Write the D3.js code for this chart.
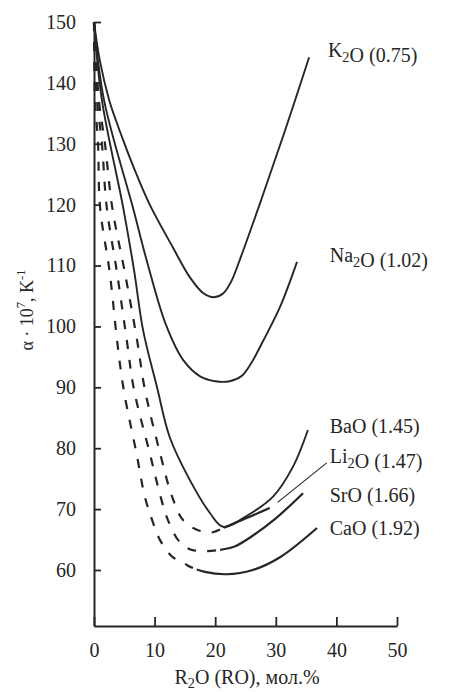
<!DOCTYPE html>
<html>
<head>
<meta charset="utf-8">
<script src="https://d3js.org/d3.v7.min.js"></script>
<style>
  body { margin: 0; background: #fff; }
  svg text { font-family: "Liberation Serif", "DejaVu Serif", serif; }
</style>
</head>
<body>
<div id="container"></div>
<script>
// x = R2O (RO), mol.%   y = alpha * 10^7, 1/K
const k2o  = [[0,150],[1.0,143.5],[2.5,137.2],[3.6,133.9],[5.0,130.1],[6.6,126.0],[9.2,120.0],[13.0,113.0],[15.8,108.1],[18.0,105.5],[19.8,104.8],[21.3,105.4],[22.6,107.3],[24.3,111.6],[27.6,120.8],[31.4,131.8],[35.5,144.2]];
const na2o = [[0,150],[1.65,137.2],[6.4,119.6],[8.9,110.1],[11.9,100.2],[14.7,94.5],[17.5,91.8],[20.0,91.0],[22.4,91.0],[24.3,91.8],[25.9,93.9],[27.9,97.6],[30.7,103.2],[33.5,110.6]];
const bao  = [[0,150],[1.3,137.2],[4.8,119.6],[6.6,109.3],[8.1,99.4],[10.4,90.0],[12.5,81.8],[15.8,74.8],[19.1,69.4],[21.3,67.1],[25.7,69.2],[29.5,72.0],[32.8,76.9],[35.3,83.0]];
const li2o = [[0,150],[0.8,137.2],[1.8,130.1],[3.0,119.6],[5.1,108.8],[7.1,97.8],[8.4,89.6],[10.9,79.2],[12.9,72.0],[14.7,68.2],[17.0,66.6],[19.6,66.2],[21.3,66.9],[24.9,68.4],[29.0,70.2]];
const sro  = [[0,150],[0.5,137.2],[1.3,130.1],[2.1,119.6],[3.8,108.8],[5.4,97.8],[6.6,89.6],[9.2,79.2],[11.0,72.0],[12.2,68.2],[13.9,64.9],[15.8,63.4],[18.3,63.1],[20.8,63.3],[23.3,63.9],[25.7,65.3],[29.9,68.4],[34.5,72.6]];
const cao  = [[0,150],[0.17,137.2],[0.66,130.1],[1.0,119.6],[2.6,108.8],[3.8,97.8],[4.9,89.6],[7.0,79.2],[8.4,72.0],[9.6,68.2],[10.9,64.9],[13.0,62.1],[14.7,61.3],[15.5,60.7],[18.3,59.7],[21.9,59.3],[26.2,60.0],[30.7,62.1],[36.8,66.9]];

const names    = ["K2O", "Na2O", "BaO", "Li2O", "SrO", "CaO"];
const strength = ["0.75", "1.02", "1.45", "1.47", "1.66", "1.92"];
// composition up to which a curve is dashed (0 = solid all the way)
const dashedTo = [0, 0, 0, 21.0, 20.8, 15.5];
const li2oLeader = [[30.3,71.1],[38.4,77.6]];

const xTicks = [0, 10, 20, 30, 40, 50];
const yTicks = [60, 70, 80, 90, 100, 110, 120, 130, 140, 150];

const W = 449, H = 692;
const ink = "#262626";
const serif = '"Liberation Serif", "DejaVu Serif", serif';

const svg = d3.select('#container').append('svg')
  .attr('width', W).attr('height', H);

const x = d3.scaleLinear().domain([0, 50]).range([94, 397]);
const y = d3.scaleLinear().domain([50.8, 150]).range([626, 22]);

// axes, ticks point inwards
const yAxis = d3.axisLeft(y).tickValues(yTicks).tickSizeInner(-7).tickSizeOuter(0).tickPadding(18);
const xAxis = d3.axisBottom(x).tickValues(xTicks).tickSizeInner(-9).tickSizeOuter(0).tickPadding(17);

const gy = svg.append('g').attr('transform', 'translate(94,0)').call(yAxis);
const gx = svg.append('g').attr('transform', 'translate(0,626)').call(xAxis);
[gx, gy].forEach(g => {
  g.attr('font-family', serif);
  g.select('.domain').attr('stroke', ink).attr('stroke-width', 2);
  g.selectAll('.tick line').attr('stroke', ink).attr('stroke-width', 1.8);
  g.selectAll('.tick text').attr('fill', ink).attr('font-size', 20)
    .attr('font-family', serif);
});

const line = d3.line()
  .x(d => x(d[0])).y(d => y(d[1]))
  .curve(d3.curveCatmullRom.alpha(0.5));

const curves = [k2o, na2o, bao, li2o, sro, cao];
curves.forEach((pts, i) => {
  const p = svg.append('path')
    .attr('d', line(pts))
    .attr('fill', 'none')
    .attr('stroke', ink)
    .attr('stroke-width', dashedTo[i] ? 2.2 : 1.9);
  if (dashedTo[i]) {
    const node = p.node();
    const total = node.getTotalLength();
    const xc = x(dashedTo[i]);
    let lo = 0, hi = total;
    for (let k = 0; k < 30; k++) {
      const mid = (lo + hi) / 2;
      if (node.getPointAtLength(mid).x < xc) lo = mid; else hi = mid;
    }
    const arr = [];
    let s = 0;
    while (s + 20 <= lo) { arr.push(9, 11); s += 20; }
    arr.push(9, Math.max(lo - s - 9, 4));
    arr.push(total, 0);
    p.attr('stroke-dasharray', arr.join(' '));
  }
});

svg.append('path')
  .attr('d', d3.line().x(d => x(d[0])).y(d => y(d[1]))(li2oLeader))
  .attr('stroke', ink).attr('stroke-width', 1.1).attr('fill', 'none');

// curve labels
const labelAt = [[38.6,144.2],[38.9,110.6],[38.9,82.5],[38.9,77.6],[38.9,71.2],[38.9,65.7]];

function formula(t, s) {
  s.split(/(\d)/).filter(Boolean).forEach(part => {
    if (/^\d$/.test(part)) {
      t.append('tspan').attr('font-size', '0.72em').attr('dy', 5).text(part);
      t.append('tspan').attr('dy', -5).text('');
    } else {
      t.append('tspan').text(part);
    }
  });
}

names.forEach((n, i) => {
  const t = svg.append('text')
    .attr('x', x(labelAt[i][0])).attr('y', y(labelAt[i][1]))
    .attr('font-family', serif)
    .attr('font-size', 20).attr('fill', ink);
  formula(t, n);
  t.append('tspan').text(' (' + strength[i] + ')');
});

// axis titles
const yt = svg.append('text')
  .attr('transform', 'translate(33,310) rotate(-90)')
  .attr('font-family', serif)
  .attr('text-anchor', 'middle').attr('font-size', 18).attr('fill', ink);
yt.append('tspan').text('\u03b1 \u00b7 10');
yt.append('tspan').attr('font-size', '0.7em').attr('dy', -8).text('7');
yt.append('tspan').attr('dy', 8).text(', K');
yt.append('tspan').attr('font-size', '0.7em').attr('dy', -8).text('-1');

const xt = svg.append('text')
  .attr('x', 247).attr('y', 684)
  .attr('font-family', serif)
  .attr('text-anchor', 'middle').attr('font-size', 20).attr('fill', ink);
xt.append('tspan').text('R');
xt.append('tspan').attr('font-size', '0.72em').attr('dy', 4).text('2');
xt.append('tspan').attr('dy', -4).text('O (RO), \u043c\u043e\u043b.%');
</script>
</body>
</html>
